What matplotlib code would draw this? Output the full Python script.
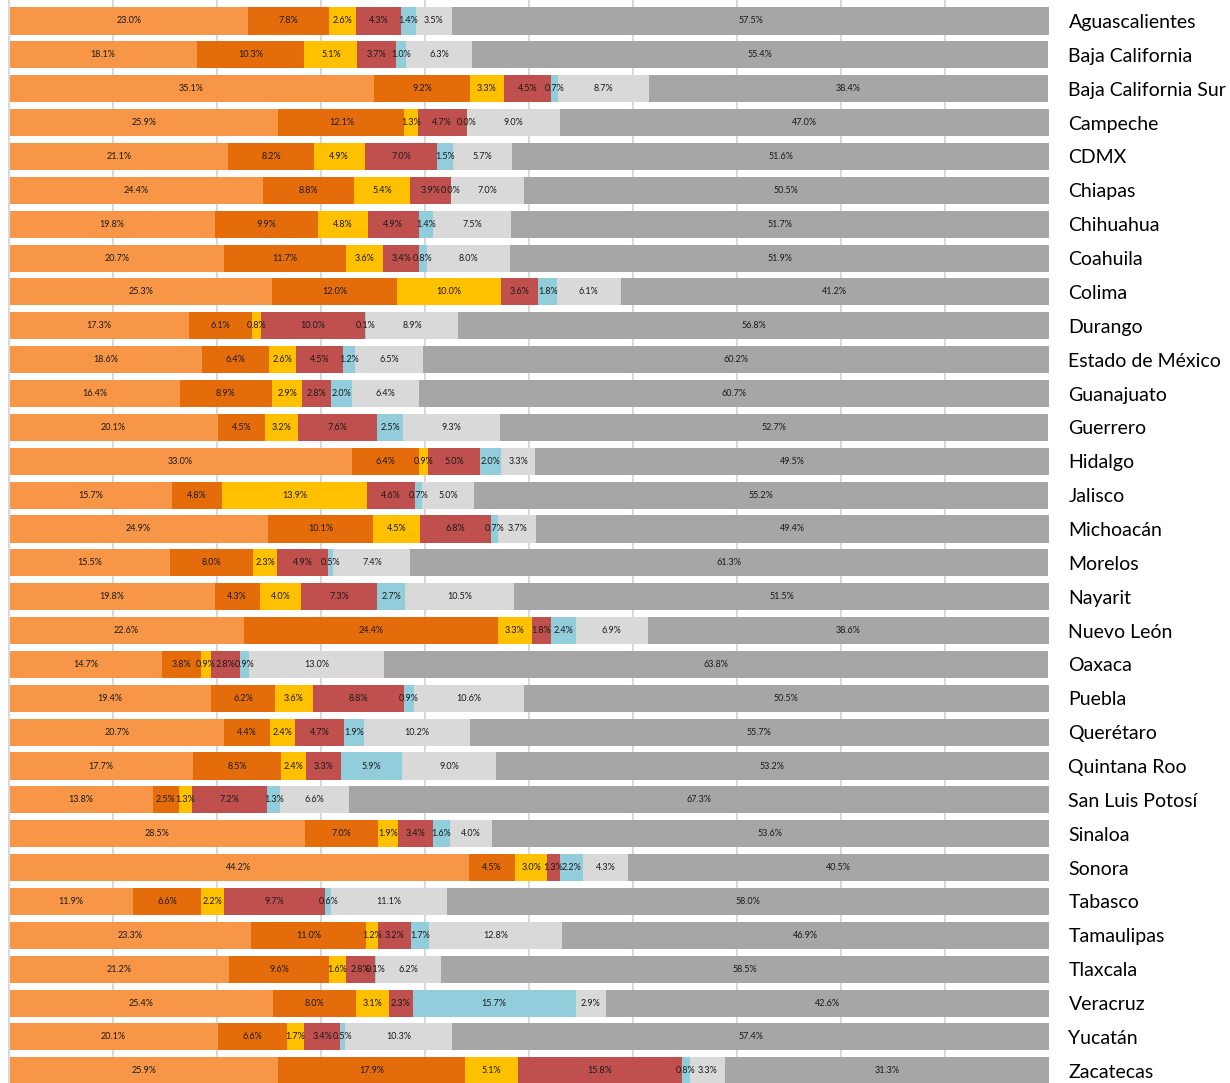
import matplotlib.pyplot as plt
import numpy as np

plt.rcParams["font.family"] = ["Lato", "DejaVu Sans"]

states = [
    "Aguascalientes", "Baja California", "Baja California Sur", "Campeche",
    "CDMX", "Chiapas", "Chihuahua", "Coahuila", "Colima", "Durango",
    "Estado de México", "Guanajuato", "Guerrero", "Hidalgo", "Jalisco",
    "Michoacán", "Morelos", "Nayarit", "Nuevo León", "Oaxaca", "Puebla",
    "Querétaro", "Quintana Roo", "San Luis Potosí", "Sinaloa", "Sonora",
    "Tabasco", "Tamaulipas", "Tlaxcala", "Veracruz", "Yucatán", "Zacatecas",
]

# one list per stacked segment, in state order
seg1 = [23.0, 18.1, 35.1, 25.9, 21.1, 24.4, 19.8, 20.7, 25.3, 17.3, 18.6, 16.4,
        20.1, 33.0, 15.7, 24.9, 15.5, 19.8, 22.6, 14.7, 19.4, 20.7, 17.7, 13.8,
        28.5, 44.2, 11.9, 23.3, 21.2, 25.4, 20.1, 25.9]
seg2 = [7.8, 10.3, 9.2, 12.1, 8.2, 8.8, 9.9, 11.7, 12.0, 6.1, 6.4, 8.9,
        4.5, 6.4, 4.8, 10.1, 8.0, 4.3, 24.4, 3.8, 6.2, 4.4, 8.5, 2.5,
        7.0, 4.5, 6.6, 11.0, 9.6, 8.0, 6.6, 17.9]
seg3 = [2.6, 5.1, 3.3, 1.3, 4.9, 5.4, 4.8, 3.6, 10.0, 0.8, 2.6, 2.9,
        3.2, 0.9, 13.9, 4.5, 2.3, 4.0, 3.3, 0.9, 3.6, 2.4, 2.4, 1.3,
        1.9, 3.0, 2.2, 1.2, 1.6, 3.1, 1.7, 5.1]
seg4 = [4.3, 3.7, 4.5, 4.7, 7.0, 3.9, 4.9, 3.4, 3.6, 10.0, 4.5, 2.8,
        7.6, 5.0, 4.6, 6.8, 4.9, 7.3, 1.8, 2.8, 8.8, 4.7, 3.3, 7.2,
        3.4, 1.3, 9.7, 3.2, 2.8, 2.3, 3.4, 15.8]
seg5 = [1.4, 1.0, 0.7, 0.0, 1.5, 0.0, 1.4, 0.8, 1.8, 0.1, 1.2, 2.0,
        2.5, 2.0, 0.7, 0.7, 0.5, 2.7, 2.4, 0.9, 0.9, 1.9, 5.9, 1.3,
        1.6, 2.2, 0.6, 1.7, 0.1, 15.7, 0.5, 0.8]
seg6 = [3.5, 6.3, 8.7, 9.0, 5.7, 7.0, 7.5, 8.0, 6.1, 8.9, 6.5, 6.4,
        9.3, 3.3, 5.0, 3.7, 7.4, 10.5, 6.9, 13.0, 10.6, 10.2, 9.0, 6.6,
        4.0, 4.3, 11.1, 12.8, 6.2, 2.9, 10.3, 3.3]
seg7 = [57.5, 55.4, 38.4, 47.0, 51.6, 50.5, 51.7, 51.9, 41.2, 56.8, 60.2, 60.7,
        52.7, 49.5, 55.2, 49.4, 61.3, 51.5, 38.6, 63.8, 50.5, 55.7, 53.2, 67.3,
        53.6, 40.5, 58.0, 46.9, 58.5, 42.6, 57.4, 31.3]

segments = [seg1, seg2, seg3, seg4, seg5, seg6, seg7]
colors = ["#F79646", "#E46C0A", "#FFC000", "#C0504D", "#92CDDC", "#D9D9D9", "#A6A6A6"]

fig = plt.figure(figsize=(12.3, 10.83), dpi=100)
ax = fig.add_axes([9 / 1230, 0, 1040 / 1230, 1])
ax.set_axisbelow(True)

y = np.arange(len(states))
left = np.zeros(len(states))
for vals, col in zip(segments, colors):
    vals = np.array(vals)
    bars = ax.barh(y, vals, left=left, height=0.8, color=col, zorder=2)
    ax.bar_label(bars, labels=[f"{v:.1f}%" for v in vals], label_type="center",
                 fontsize=6.5, color="#1a1a1a")
    left += vals

ax.set_xlim(0, 100)
ax.set_ylim(31.36, -0.62)
ax.set_xticks(np.arange(10, 100, 10))
ax.grid(axis="x", color="#D9D9D9", linewidth=1.5)
ax.tick_params(axis="x", length=0, labelbottom=False)

ax.set_yticks(y)
ax.set_yticklabels(states, fontsize=14)
ax.yaxis.tick_right()
ax.tick_params(axis="y", length=0, pad=14)

for side in ["top", "right", "bottom"]:
    ax.spines[side].set_visible(False)
ax.spines["left"].set_color("#D9D9D9")
ax.spines["left"].set_linewidth(1.5)

fig.savefig("out.png", dpi=100)
